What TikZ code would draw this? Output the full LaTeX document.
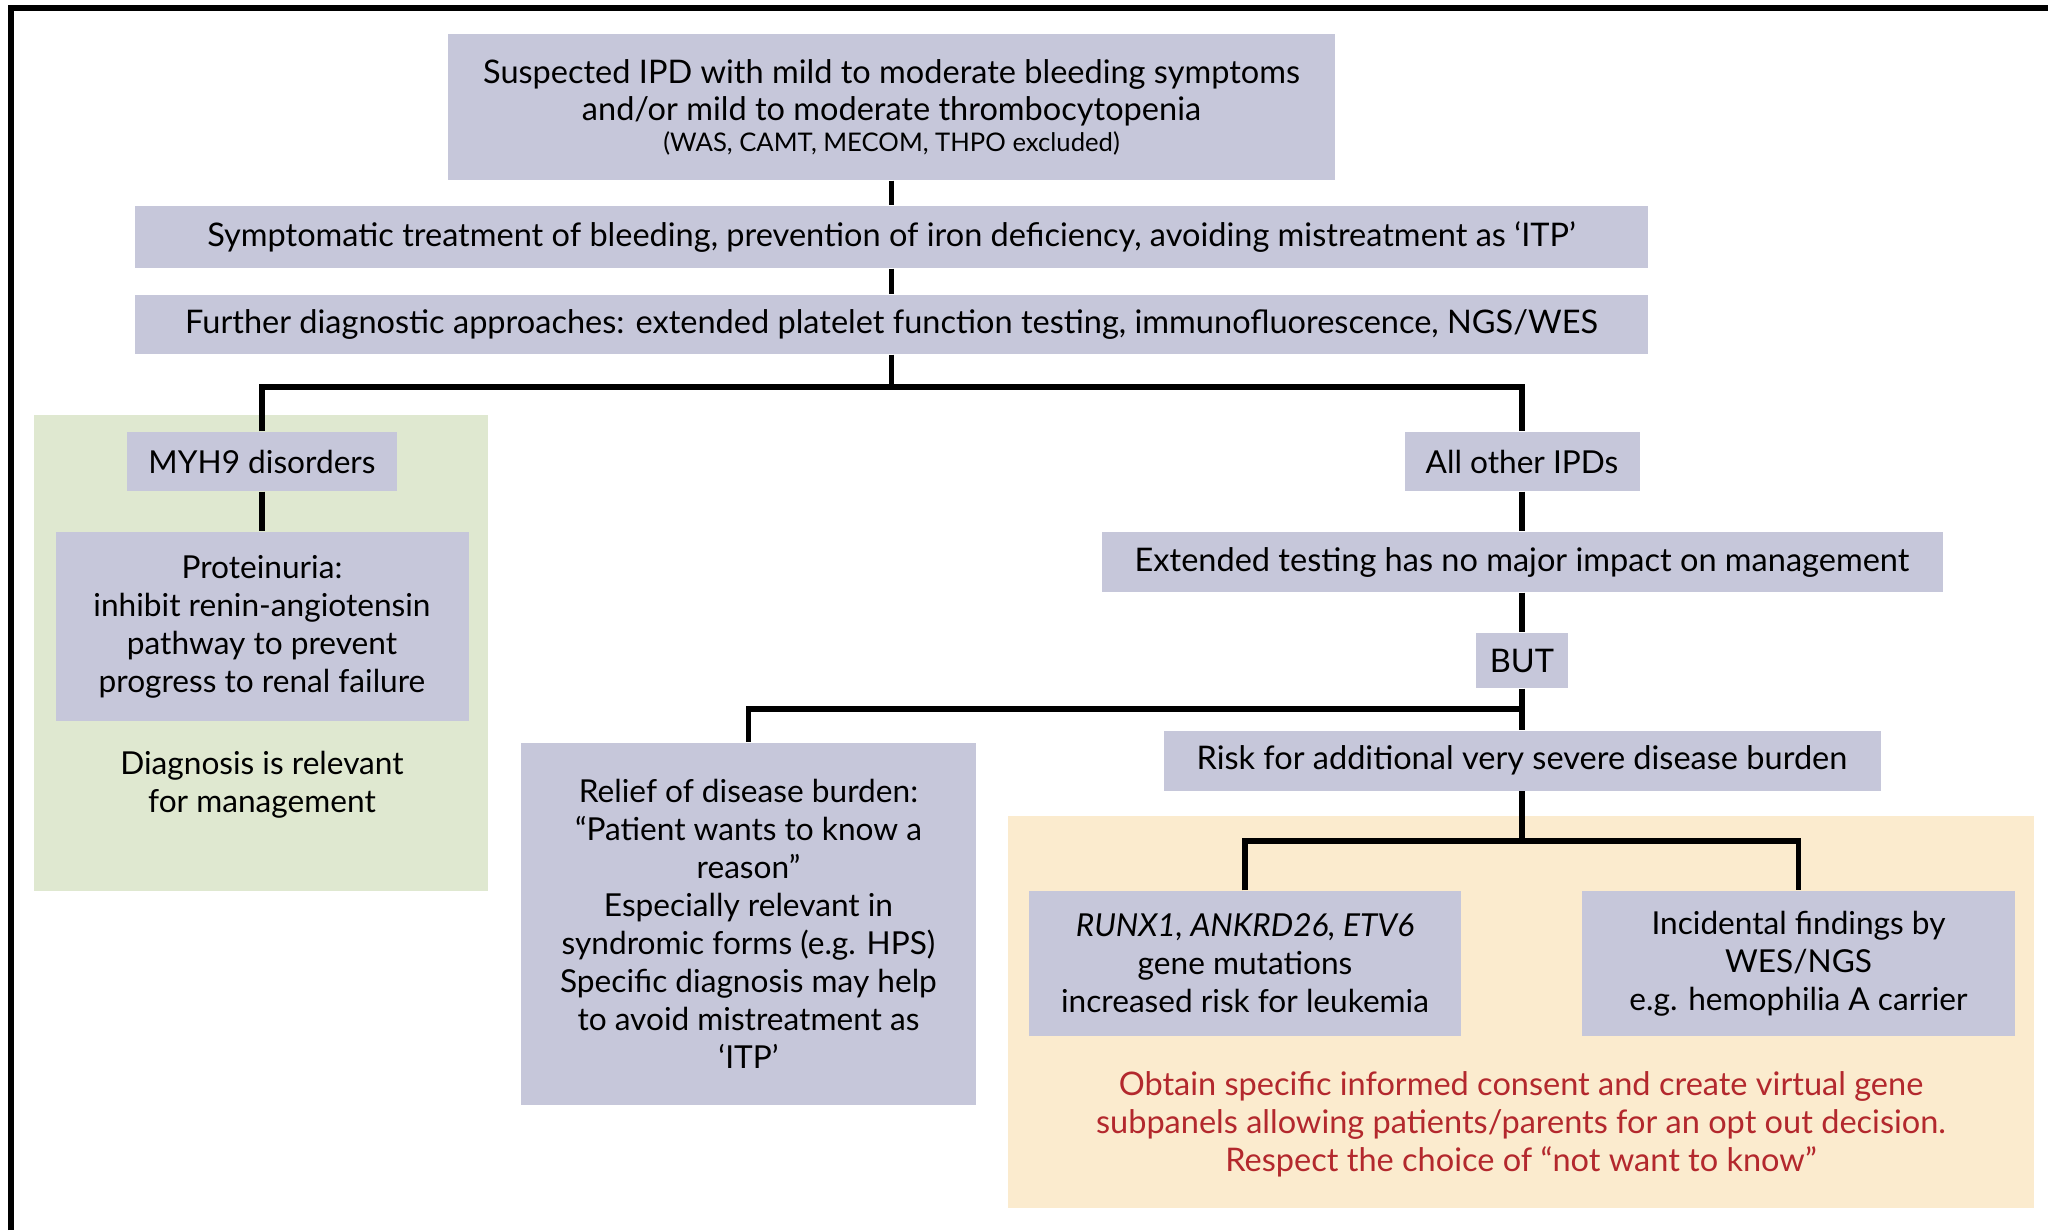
\documentclass[tikz,border=0pt]{standalone}
\usepackage{fontspec}
\setmainfont{Lato}
\usetikzlibrary{positioning}
\definecolor{boxg}{HTML}{C6C7DA}
\definecolor{greenp}{HTML}{DFE8D0}
\definecolor{sandp}{HTML}{FBEBCE}
\definecolor{darkred}{HTML}{B3282D}

\begin{document}
\begin{tikzpicture}
[x=0.1mm, y=-0.1mm,
   box/.style={shape=rectangle, fill=boxg, inner sep=0pt, align=center,
     font=\fontsize{9pt}{10.8pt}\selectfont},
   wide/.style={font=\fontsize{9.25pt}{10.8pt}\selectfont},
   panel/.style={shape=rectangle, inner sep=0pt},
   plain/.style={align=center, font=\fontsize{9pt}{10.8pt}\selectfont},
   link/.style={line width=0.55mm}]
\useasboundingbox (0,0) rectangle (2048,1230);
\draw [line width=0.6mm] (10.5,1230) -- (10.5,8) -- (2048,8);
%% background panels
\node[panel, fill=greenp, minimum width=45.4mm, minimum height=47.6mm] (GP) at (261,653) {};
\node[panel, fill=sandp, minimum width=102.6mm, minimum height=39.2mm] (SP) at (1521,1012) {};
%% main column
\node[box, wide, minimum width=88.7mm, minimum height=14.6mm] (Susp) at (891.5,107)
{Suspected IPD with mild to moderate bleeding symptoms \\ and/or mild to moderate thrombocytopenia \\[-2.2pt]
{\fontsize{7.3pt}{8.6pt}\selectfont (WAS, CAMT, MECOM, THPO excluded)}};
\node[box, wide, minimum width=151.3mm, minimum height=6.2mm] (Sympt) at (891.5,237)
{Symptomatic treatment of bleeding, prevention of iron deficiency, avoiding mistreatment as ‘ITP’};
\node[box, wide, minimum width=151.3mm, minimum height=5.9mm] (Further) at (891.5,324.5)
{Further diagnostic approaches: extended platelet function testing, immunofluorescence, NGS/WES};
\draw [link] (Susp) to (Sympt);
\draw [link] (Sympt) to (Further);
%% MYH9 branch
\node[box, minimum width=27mm, minimum height=5.9mm] (MYH) at (262,461.5) {MYH9 disorders};
\node[box, minimum width=41.3mm, minimum height=18.9mm] (Prot) at (262,626.5)
{Proteinuria: \\ inhibit renin-angiotensin \\ pathway to prevent \\ progress to renal failure};
\node[plain] (Diag) at (262,785) {Diagnosis is relevant \\ for management};
\draw [link] (MYH) to (Prot);
%% other IPDs branch
\node[box, minimum width=23.5mm, minimum height=5.9mm] (Other) at (1522,461.5) {All other IPDs};
\node[box, wide, minimum width=84.1mm, minimum height=6mm] (Ext) at (1522,562)
{Extended testing has no major impact on management};
\node[box, wide, minimum width=9.2mm, minimum height=5.5mm] (But) at (1522,660.5) {BUT};
\node[box, wide, minimum width=71.7mm, minimum height=6mm] (Risk) at (1522,760.5)
{Risk for additional very severe disease burden};
\node[box, minimum width=45.5mm, minimum height=36.2mm] (Relief) at (748.5,924)
{Relief of disease burden: \\ “Patient wants to know a \\ reason” \\ Especially relevant in \\
syndromic forms (e.g. HPS) \\ Specific diagnosis may help \\ to avoid mistreatment as \\ ‘ITP’};
\node[box, minimum width=43.2mm, minimum height=14.5mm] (Runx) at (1245,963.5)
{\textit{RUNX1, ANKRD26, ETV6} \\ gene mutations \\ increased risk for leukemia};
\node[box, minimum width=43.3mm, minimum height=14.5mm] (Incid) at (1798.5,963.5)
{Incidental findings by \\ WES/NGS \\ e.g. hemophilia A carrier};
\node[plain, wide, text=darkred] (Consent) at (1521,1124)
{Obtain specific informed consent and create virtual gene \\
subpanels allowing patients/parents for an opt out decision. \\
Respect the choice of “not want to know”};
%% connectors
\coordinate (split1) at (891.5,387);
\coordinate (split2) at (1522,709);
\coordinate (split3) at (1522,841);
\draw [link] (Further) to (split1);
\draw [link] (MYH.north) |- (split1) -| (Other.north);
\draw [link] (Other) to (Ext);
\draw [link] (Ext) to (But);
\draw [link] (But) to (Risk);
\draw [link] (split2) -| (Relief.north);
\draw [link] (Risk) to (split3);
\draw [link] (Runx.north) |- (split3) -| (Incid.north);
\end{tikzpicture}
\end{document}
